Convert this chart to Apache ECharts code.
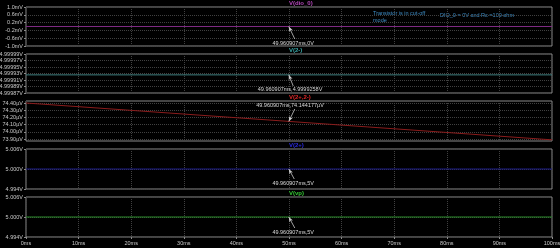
<!DOCTYPE html>
<html>
<head>
<meta charset="utf-8">
<script src="https://cdn.jsdelivr.net/npm/echarts@6/dist/echarts.min.js"></script>
<style>
  html, body { margin: 0; padding: 0; background: #000; }
  #chart { width: 560px; height: 248px; }
</style>
</head>
<body>
<div id="chart"></div>
<script>
// transient run, 0..100 ms, cursor at 49.960907 ms
const times = [0, 50, 100];
const cursorTime = 49.960907;

// one array per trace
const vDio0 = [0, 0, 0];                           // mV
const v2minus = [4.9999258, 4.9999258, 4.9999258]; // V
const v2diff = [74.400, 74.144177, 73.888];        // uV
const v2plus = [5, 5, 5];                          // V
const vVp = [5, 5, 5];                             // V

// y tick labels per pane
const ticksDio0 = [-1.0, -0.6, -0.2, 0.2, 0.6, 1.0];
const ticks2minus = [4.99987, 4.99989, 4.99991, 4.99993, 4.99995, 4.99997, 4.99999];
const ticks2diff = [73.90, 74.00, 74.10, 74.20, 74.30, 74.40];
const ticks2plus = [4.994, 5.000, 5.006];
const ticksVp = [4.994, 5.000, 5.006];

const cursorText = ['49.960907ms,0V', '49.960907ms,4.9999258V', '49.960907ms,74.144177\u00b5V', '49.960907ms,5V', '49.960907ms,5V'];

const FONT = 'Liberation Sans';
const panes = [
    { name: 'V(dio_0)', data: vDio0, ticks: ticksDio0, min: -1.0, max: 1.0, dec: 1, unit: 'mV',
      line: '#7e2a82', title: '#b246b8', top: 7, h: 39, cur: 0, arrowEnd: [51.1, -0.64], lab: [50.8, -0.85] },
    { name: 'V(2-)', data: v2minus, ticks: ticks2minus, min: 4.99987, max: 4.99999, dec: 5, unit: 'V',
      line: '#3f7f7f', title: '#3aa8a8', top: 54, h: 39, cur: 4.9999258, arrowEnd: [50.8, 4.9998915], lab: [50.2, 4.9998823] },
    { name: 'V(2+,2-)', data: v2diff, ticks: ticks2diff, min: 73.872, max: 74.428, dec: 2, unit: '\u00b5V',
      line: '#8a1c1c', title: '#e02828', top: 101, h: 40, cur: 74.144177, arrowEnd: [51.1, 74.317], lab: [50.2, 74.372] },
    { name: 'V(2+)', data: v2plus, ticks: ticks2plus, min: 4.994, max: 5.006, dec: 3, unit: 'V',
      line: '#1c1c8a', title: '#2a2ae0', top: 149, h: 40, cur: 5, arrowEnd: [51.0, 4.9970], lab: [50.8, 4.9958] },
    { name: 'V(vp)', data: vVp, ticks: ticksVp, min: 4.994, max: 5.006, dec: 3, unit: 'V',
      line: '#2a8a2a', title: '#34c834', top: 197, h: 40, cur: 5, arrowEnd: [51.1, 4.9967], lab: [50.8, 4.9955] }
];

const chart = echarts.init(document.getElementById('chart'));

const grid = [], xAxis = [], yAxis = [], series = [], graphic = [];
panes.forEach((p, i) => {
    const last = i === panes.length - 1;
    grid.push({ left: 26, right: 8, top: p.top, height: p.h, show: true,
        borderColor: '#8a8a8a', borderWidth: 1, backgroundColor: '#000', outerBoundsMode: 'none' });
    xAxis.push({
        type: 'value', gridIndex: i, min: 0, max: 100, interval: 10,
        axisLine: { show: false },
        axisTick: { show: last, length: 2, lineStyle: { color: '#8a8a8a' } },
        axisLabel: { show: last, color: '#c8c8c8', fontSize: 5.5, fontFamily: FONT, margin: 3,
            formatter: v => v + 'ms' },
        splitLine: { show: true, lineStyle: { color: '#404040', type: [1, 1], width: 1 } }
    });
    yAxis.push({
        type: 'value', gridIndex: i, min: p.min, max: p.max,
        axisLine: { show: false },
        axisTick: { show: true, length: 2, customValues: p.ticks, lineStyle: { color: '#8a8a8a' } },
        axisLabel: { show: true, customValues: p.ticks, color: '#c8c8c8', fontSize: 5.5, fontFamily: FONT, margin: 3,
            formatter: v => v.toFixed(p.dec) + p.unit },
        splitLine: { show: true, lineStyle: { color: '#404040', type: [1, 1], width: 1 } }
    });
    series.push({
        type: 'line', xAxisIndex: i, yAxisIndex: i, name: p.name,
        data: times.map((t, k) => [t, p.data[k]]),
        showSymbol: false, silent: true,
        lineStyle: { color: p.line, width: 1 },
        markLine: {
            silent: true, animation: false,
            label: { show: false },
            lineStyle: { color: '#c8c8c8', width: 0.8, type: 'solid' },
            data: [[
                { coord: [cursorTime, p.cur], symbol: 'arrow', symbolSize: [3, 5] },
                { coord: p.arrowEnd, symbol: 'none' }
            ]]
        },
        markPoint: {
            silent: true, animation: false,
            data: [{
                coord: p.lab, symbol: 'circle', symbolSize: 1, itemStyle: { color: 'rgba(0,0,0,0)' },
                label: { show: true, position: 'inside', formatter: cursorText[i],
                    color: '#d8d8d8', fontSize: 5.5, fontFamily: FONT }
            }]
        }
    });
    graphic.push({
        type: 'text', left: 289, top: p.top - 7, silent: true,
        style: { text: p.name, fill: p.title, font: 'bold 6px "' + FONT + '"', textAlign: 'center' }
    });
});

// annotations in the top pane
graphic.push({ type: 'text', left: 373, top: 10, silent: true,
    style: { text: 'Transistor is in cut-off\nmode', fill: '#3d8cc4', font: '5.5px "' + FONT + '"', lineHeight: 7 } });
graphic.push({ type: 'text', left: 440, top: 12, silent: true,
    style: { text: 'DIO_0 = 0V and Rc =100 ohm', fill: '#3d8cc4', font: '5.5px "' + FONT + '"' } });

chart.setOption({
    backgroundColor: '#000',
    animation: false,
    grid, xAxis, yAxis, series, graphic
});
window.addEventListener('resize', () => chart.resize());
</script>
</body>
</html>
